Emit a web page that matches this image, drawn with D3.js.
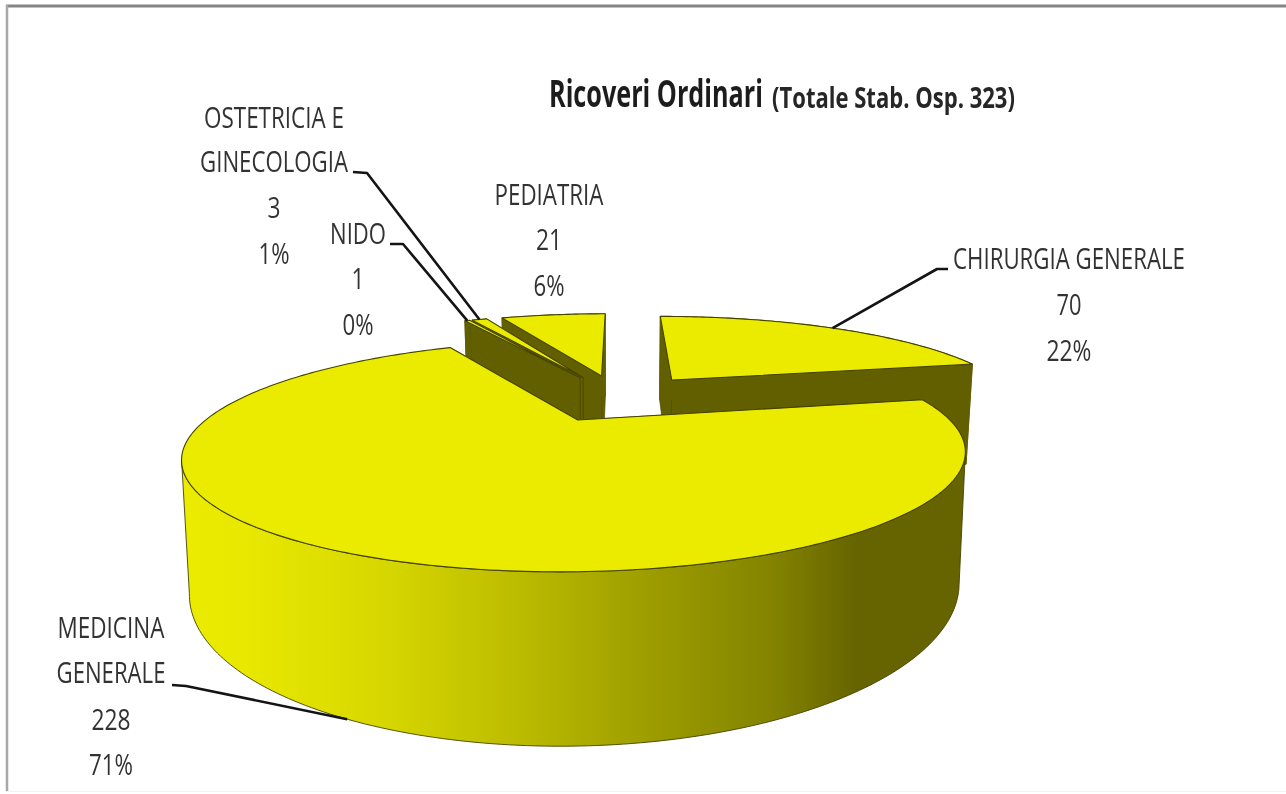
<!DOCTYPE html>
<html><head><meta charset="utf-8">
<script src="https://cdn.jsdelivr.net/npm/d3@7"></script>
<style>html,body{margin:0;padding:0;background:#fff}svg{display:block}
text{font-family:"Open Sans",sans-serif;fill:#333}</style>
</head><body><script>
// Data
const categories = ["CHIRURGIA GENERALE","MEDICINA GENERALE","NIDO","OSTETRICIA E GINECOLOGIA","PEDIATRIA"];
const values = [70,228,1,3,21];
const percents = ["22%","71%","0%","1%","6%"];
const title = "Ricoveri Ordinari";
const subtitle = "(Totale Stab. Osp. 323)";
const labelLines = [["CHIRURGIA GENERALE"],["MEDICINA","GENERALE"],["NIDO"],["OSTETRICIA E","GINECOLOGIA"],["PEDIATRIA"]];
// Layout of labels: centre, baselines and target widths of the lines
const labelPos = [
 {cx:1069,y:[269,315,361],w:[232,25,45]},
 {cx:111,y:[638,683,730,775],w:[107,109,39,44]},
 {cx:358,y:[244,289,335],w:[56,13,31]},
 {cx:274,y:[128,172,218,264],w:[140,148,13,31]},
 {cx:549,y:[205,250,296],w:[109,26,31]}
];
const leaders = [
 {start:[[948,269],[937,269]],z:0},
 {start:[[172,685],[186,686]],z:1},
 {start:[[390,244],[403,244]],z:0},
 {start:[[353,172],[367,173]],z:0},
 null
];
const W=1286,H=794;
// Perspective projection of the pie plane
const P={xv:618.5,yh:84,A:347,H:313.3,k:0.29,Z:112,shrink:0.018,explode:0.258};
const project=(u,v,z)=>{const w=1+P.k*v;
  return [P.xv+P.A*u/w*(1-P.shrink*z), P.yh+P.H/w+P.Z*z/w];};

const svg=d3.select("body").append("svg").attr("width",W).attr("height",H);
svg.append("rect").attr("width",W).attr("height",H).attr("fill","#fff");
// Frame of the screenshot
svg.append("line").attr("x1",6).attr("x2",W).attr("y1",6).attr("y2",6).attr("stroke","#858585").attr("stroke-width",3);
svg.append("line").attr("x1",7).attr("x2",7).attr("y1",5).attr("y2",H-3).attr("stroke","#a8a8a8").attr("stroke-width",2.5);
svg.append("line").attr("x1",6).attr("x2",W).attr("y1",H-2.5).attr("y2",H-2.5).attr("stroke","#f2f2f2").attr("stroke-width",1);

const defs=svg.append("defs");
const grad=defs.append("linearGradient").attr("id","side").attr("gradientUnits","userSpaceOnUse")
  .attr("x1",182).attr("x2",966).attr("y1",0).attr("y2",0);
[[0,"#ecec00"],[0.08,"#e8e800"],[0.25,"#d8d800"],[0.42,"#bdbd00"],[0.6,"#9c9c00"],[0.75,"#848400"],[0.86,"#666400"],[1,"#666400"]]
 .forEach(s=>grad.append("stop").attr("offset",s[0]).attr("stop-color",s[1]));
defs.append("filter").attr("id","soft").attr("x","-5%").attr("y","-20%").attr("width","110%").attr("height","140%")
  .append("feGaussianBlur").attr("stdDeviation",0.45);

const TOP="#ebeb00",DARK="#625f00",EDGE="#454300";
const pie=d3.pie().sort(null).value(d=>d);
const arcs=pie(values);
const line=d3.line();

arcs.forEach(a=>{const mid=(a.startAngle+a.endAngle)/2;
  a.ou=P.explode*Math.sin(mid); a.ov=P.explode*Math.cos(mid); a.mid=mid;});
const pt=(a,t,z)=>project(a.ou+Math.sin(t),a.ov+Math.cos(t),z);
const apex=(a,z)=>project(a.ou,a.ov,z);
const sweep=(a,z)=>{const n=Math.max(4,Math.ceil((a.endAngle-a.startAngle)*60));
  return d3.range(n+1).map(i=>pt(a,a.startAngle+(a.endAngle-a.startAngle)*i/n,z));};

// Back to front: pediatria, ostetricia, nido, chirurgia, medicina
[4,3,2,0,1].forEach(i=>{const a=arcs[i],g=svg.append("g");
  const outer=sweep(a,0),low=sweep(a,1);
  // keep only the stretch of the rim between the horizontal extremes
  const iMax=d3.greatestIndex(outer,d=>d[0]), iMin=d3.leastIndex(outer,d=>d[0]);
  const i0=Math.min(iMax,iMin), i1=Math.max(iMax,iMin);
  const rimT=outer.slice(i0,i1+1), rimB=low.slice(i0,i1+1).reverse();
  const fillSide=i===1?"url(#side)":DARK;
  [a.startAngle,a.endAngle].forEach(t=>{
    g.append("path").attr("d",line([apex(a,0),pt(a,t,0),pt(a,t,1),apex(a,1)])+"Z")
     .attr("fill",DARK).attr("stroke",EDGE).attr("stroke-width",0.6);});
  g.append("path").attr("d",line(rimT.concat(rimB))+"Z")
    .attr("fill",fillSide).attr("stroke",i===1?EDGE:DARK).attr("stroke-width",0.9);
  g.append("path").attr("d",line([apex(a,0)].concat(outer))+"Z")
    .attr("fill",TOP).attr("stroke",EDGE).attr("stroke-width",1.1).attr("stroke-linejoin","round");
});

// Leader lines
leaders.forEach((l,i)=>{ if(!l) return; const a=arcs[i];
  svg.append("path").attr("d",line(l.start.concat([pt(a,a.mid,l.z)])))
   .attr("fill","none").attr("stroke","#141414").attr("stroke-width",2.6).attr("stroke-linejoin","round");});

// Labels: condensed horizontally to the measured width
const txt=svg.append("g").attr("filter","url(#soft)");
function put(s,x,y,size,width,anchor,bold,fill){
  const t=txt.append("text").attr("font-size",size).attr("text-anchor",anchor).text(s);
  if(bold) t.attr("font-weight",700);
  if(fill) t.style("fill",fill);
  const sx=width/t.node().getComputedTextLength();
  t.attr("transform",`translate(${x},${y}) scale(${sx},1)`);
}
categories.forEach((c,i)=>{const p=labelPos[i];
  labelLines[i].concat([String(values[i]),percents[i]]).forEach((s,j)=>
    put(s,p.cx,p.y[j],30,p.w[j],"middle",false));
});
put(title,549,107,37,214,"start",true,"#1e1e1e");
put(subtitle,772,108,29,243,"start",true,"#262626");
</script></body></html>
